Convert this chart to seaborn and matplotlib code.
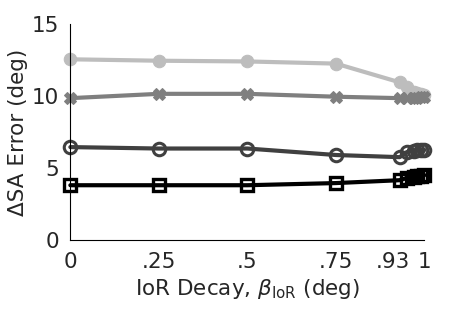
import pandas as pd
import matplotlib
matplotlib.use("Agg")
import matplotlib.pyplot as plt
import matplotlib.transforms as mtransforms
import seaborn as sns

# --- Data ---
decay = [0, 0.25, 0.5, 0.75, 0.93, 0.95, 0.97, 0.98, 0.99, 1.0]
err_light = [12.55, 12.45, 12.4, 12.25, 10.95, 10.6, 10.3, 10.2, 10.15, 10.1]
err_mid = [9.85, 10.15, 10.15, 9.95, 9.85, 9.85, 9.85, 9.85, 9.9, 9.9]
err_dark = [6.45, 6.35, 6.35, 5.9, 5.75, 6.1, 6.2, 6.25, 6.25, 6.25]
err_black = [3.8, 3.8, 3.8, 3.95, 4.15, 4.3, 4.4, 4.45, 4.45, 4.5]
xtick_vals = [0, 0.25, 0.5, 0.75, 0.93, 1]
xtick_labels = ["0", ".25", ".5", ".75", ".93", "1"]

sns.set_style("white")
plt.rcParams["font.family"] = ["DejaVu Sans"]

fig = plt.figure(figsize=(4.69, 3.12), dpi=100)
ax = fig.add_axes([0.15, 0.231, 0.755, 0.692])

series = [
    (err_light, "#bdbdbd", dict(marker="o", markersize=9, markerfacecolor="#bdbdbd", markeredgecolor="#bdbdbd")),
    (err_mid, "#7f7f7f", dict(marker="X", markersize=8, markerfacecolor="#7f7f7f", markeredgecolor="#7f7f7f")),
    (err_dark, "#404040", dict(marker="o", markersize=9, markerfacecolor="none", markeredgecolor="#404040", markeredgewidth=2.2)),
    (err_black, "#000000", dict(marker="s", markersize=8, markerfacecolor="none", markeredgecolor="#000000", markeredgewidth=2.4)),
]
for vals, col, mk in series:
    df = pd.DataFrame({"decay": decay, "err": vals})
    sns.lineplot(data=df, x="decay", y="err", color=col, linewidth=3, ax=ax, **mk)

ax.set_xlim(0, 1)
ax.set_ylim(0, 15)
ax.set_xticks(xtick_vals)
ax.set_xticklabels(xtick_labels)
ax.set_yticks([0, 5, 10, 15])
ax.tick_params(direction="in", length=4, width=0.8, labelsize=15.5, colors="black",
               labelcolor="#262626")
ax.tick_params(axis="x", pad=9)
ax.tick_params(axis="y", pad=8)

# the ".93" label sits a little left of its tick in the reference
lbl = ax.get_xticklabels()[4]
lbl.set_transform(lbl.get_transform() + mtransforms.ScaledTranslation(-7 / 100, 0, fig.dpi_scale_trans))

for s in ["top", "right"]:
    ax.spines[s].set_visible(False)
for s in ["left", "bottom"]:
    ax.spines[s].set_color("black")
    ax.spines[s].set_linewidth(0.8)
ax.set_xlabel(r"IoR Decay, $\beta_{\mathrm{IoR}}$ (deg)", fontsize=15.5, color="#262626", labelpad=3)
ax.set_ylabel("ΔSA Error (deg)", fontsize=15.5, color="#262626", labelpad=3)
for ln in ax.lines:
    ln.set_clip_on(False)

fig.savefig("out.png", dpi=100)
